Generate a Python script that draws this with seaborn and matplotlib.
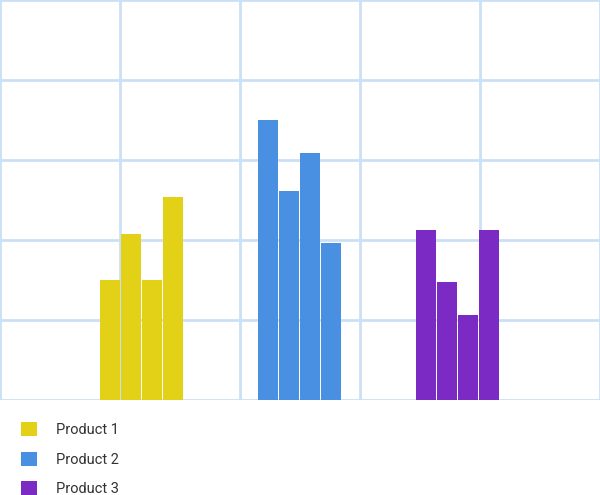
import pandas as pd
import seaborn as sns
import matplotlib.pyplot as plt
from matplotlib.patches import Patch

products = ["Product 1", "Product 2", "Product 3"]
series = ["A", "B", "C", "D"]
values = {
    "Product 1": [120, 166, 120, 203],
    "Product 2": [280, 209, 247, 157],
    "Product 3": [170, 118, 85, 170],
}
colors = ["#E2D116", "#4A90E2", "#7B2BC4"]

rows = []
for p in products:
    for s, v in zip(series, values[p]):
        rows.append({"product": p, "series": s, "value": v})
df = pd.DataFrame(rows)

sns.set_style("white")
plt.rcParams['font.family'] = ['Roboto', 'DejaVu Sans']

fig = plt.figure(figsize=(6, 4.95), dpi=100)
ax = fig.add_axes([0, 95 / 495, 1, 400 / 495])

sns.barplot(data=df, x="product", y="value", hue="series", order=products,
            hue_order=series, width=84 / 158, gap=1 / 21, dodge=True,
            errorbar=None, legend=False, ax=ax, zorder=3, linewidth=0)

# colour every bar by its product group
for patch in ax.patches:
    cx = patch.get_x() + patch.get_width() / 2
    patch.set_facecolor(colors[int(round(cx))])
    patch.set_edgecolor("none")

shift = 0.7 / 158
ax.set_ylim(0, 400)
ax.set_xlim(1 - 300 / 158 + shift, 1 + 300 / 158 + shift)
ax.set_yticks(range(0, 401, 80))
ax.set_xticks([(px - 300) / 158 + 1 + shift for px in range(0, 601, 120)])
ax.set_xticklabels([])
ax.set_yticklabels([])
ax.tick_params(length=0)
ax.set_xlabel("")
ax.set_ylabel("")
ax.grid(True, color="#CCE0F5", linewidth=2, zorder=0)
ax.set_axisbelow(True)
for sp in ax.spines.values():
    sp.set_visible(False)

handles = [Patch(facecolor=c, edgecolor="none") for c in colors]
fig.legend(handles, products, loc="upper left", bbox_to_anchor=(0.0135, 82 / 495 + 0.008),
           frameon=False, handlelength=1.1, handleheight=1.1, handletextpad=1.26,
           labelspacing=0.99, fontsize=10.5, labelcolor="#333333")

fig.savefig("out.png", dpi=100)
